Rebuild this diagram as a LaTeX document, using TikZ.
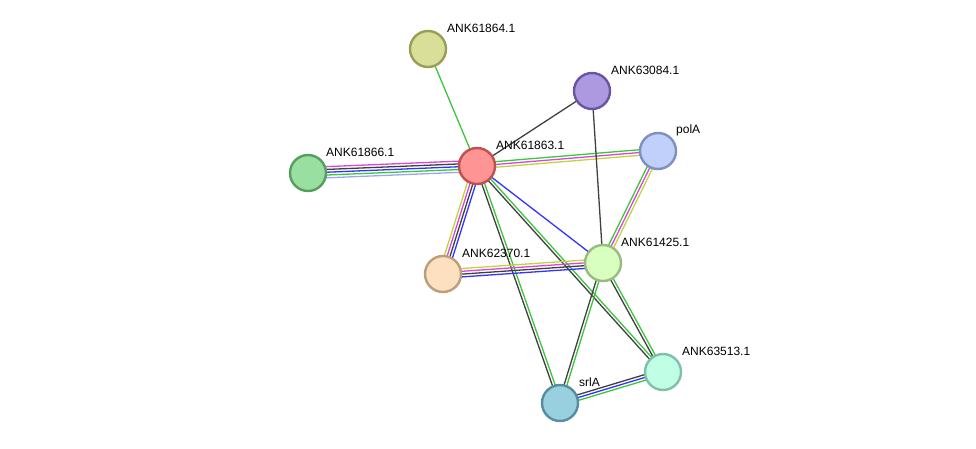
\documentclass[tikz,border=0pt]{standalone}
\usepackage{fontspec}
\setmainfont{Liberation Sans}
\usetikzlibrary{calc,backgrounds}
\definecolor{egreen}{HTML}{3CC63C}
\definecolor{emag}{HTML}{D946D9}
\definecolor{egray}{HTML}{404040}
\definecolor{eblue}{HTML}{3333FF}
\definecolor{eyel}{HTML}{C2D43C}
\definecolor{elblue}{HTML}{9EA6F0}
\tikzset{
  prot/.style={circle, minimum size=36pt, inner sep=0pt, line width=2.4pt},
  plabel/.style={anchor=west, font=\fontsize{12}{14}\selectfont, text=black, inner sep=0pt},
  eline/.style={line width=1.3pt}
}
\newcommand{\medge}[3]{%
  \foreach \col [count=\i] in {#3} {\xdef\nn{\i}}%
  \foreach \col [count=\i] in {#3} {%
    \pgfmathsetmacro{\off}{((\nn+1)/2-\i)*2.8}%
    \draw[eline, draw=\col] ($(#1.center)!\off pt!90:(#2.center)$) -- ($(#2.center)!\off pt!-90:(#1.center)$);
  }%
}
\begin{document}
\begin{tikzpicture}[x=1pt,y=-1pt]
\useasboundingbox (0,0) rectangle (976,449);
\node[prot, fill={rgb,255:red,217;green,223;blue,153}, draw={rgb,255:red,154;green,157;blue,85}] (n64) at (428,49) {};
\node[prot, fill={rgb,255:red,172;green,153;blue,223}, draw={rgb,255:red,106;green,85;blue,160}] (n084) at (592,91) {};
\node[prot, fill={rgb,255:red,255;green,148;blue,148}, draw={rgb,255:red,192;green,80;blue,80}] (n63) at (477,166) {};
\node[prot, fill={rgb,255:red,153;green,223;blue,159}, draw={rgb,255:red,85;green,160;blue,95}] (n66) at (308,173) {};
\node[prot, fill={rgb,255:red,192;green,208;blue,251}, draw={rgb,255:red,127;green,144;blue,192}] (pol) at (658,151) {};
\node[prot, fill={rgb,255:red,217;green,255;blue,192}, draw={rgb,255:red,153;green,187;blue,128}] (n25) at (603,263) {};
\node[prot, fill={rgb,255:red,253;green,224;blue,192}, draw={rgb,255:red,187;green,159;blue,122}] (n70) at (443,274) {};
\node[prot, fill={rgb,255:red,192;green,255;blue,230}, draw={rgb,255:red,128;green,192;blue,170}] (n13) at (663,372) {};
\node[prot, fill={rgb,255:red,153;green,208;blue,224}, draw={rgb,255:red,85;green,142;blue,158}] (srl) at (560,403) {};
\begin{scope}[on background layer]
\medge{n66}{n63}{emag,egray,eblue,egreen,elblue}
\medge{n63}{pol}{egreen,emag,eyel}
\medge{n70}{n63}{eyel,emag,egray,eblue}
\medge{n63}{n25}{eblue}
\medge{n63}{srl}{egreen,egray}
\medge{n63}{n13}{egreen,egray}
\medge{n64}{n63}{egreen}
\medge{n084}{n63}{egray}
\medge{n084}{n25}{egray}
\medge{n25}{pol}{egreen,emag,eyel}
\medge{n70}{n25}{eyel,emag,egray,eblue}
\medge{n25}{srl}{egreen,egray}
\medge{n25}{n13}{egreen,egray}
\medge{srl}{n13}{egray,eblue,egreen}
\end{scope}
\node[plabel] (l64) at (447,28) {ANK61864.1};
\node[plabel] (l084) at (611,70) {ANK63084.1};
\node[plabel] (l63) at (496,145) {ANK61863.1};
\node[plabel] (l66) at (326,152) {ANK61866.1};
\node[plabel] (lpol) at (676,130) {polA};
\node[plabel] (l25) at (621,242) {ANK61425.1};
\node[plabel] (l70) at (462,253) {ANK62370.1};
\node[plabel] (l13) at (682,351) {ANK63513.1};
\node[plabel] (lsrl) at (579,382) {srlA};
\end{tikzpicture}
\end{document}
